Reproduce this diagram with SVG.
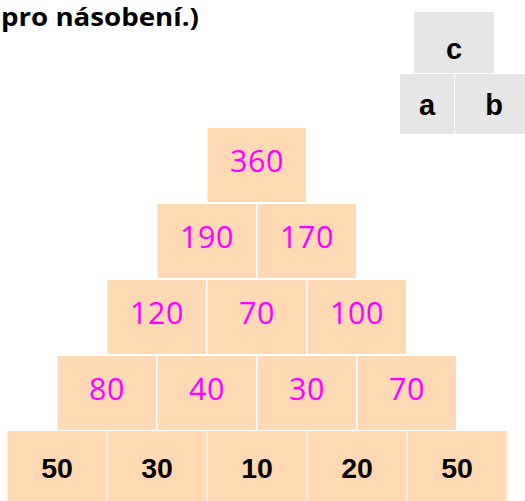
<svg xmlns="http://www.w3.org/2000/svg" width="525" height="501" viewBox="0 0 525 501">
<style>
.g{fill:#e6e6e6}
.p{fill:#fed9b3}
.k{font-family:"Liberation Sans",Arial,sans-serif;font-weight:bold;font-size:28.5px;fill:#000;text-anchor:middle}
.l{font-family:"Liberation Sans",Arial,sans-serif;font-weight:bold;font-size:29px;fill:#000;text-anchor:middle}
.m{font-family:"Open Sans","Noto Sans",sans-serif;font-size:30.5px;fill:#ff00ff;text-anchor:middle;letter-spacing:0.5px}
.t{font-family:"Open Sans","Noto Sans",sans-serif;font-weight:bold;font-size:25px;fill:#000}
</style>
<rect width="525" height="501" fill="#fff"/>
<text class="t" x="1" y="26" textLength="198" lengthAdjust="spacingAndGlyphs">pro násobení.)</text>
<g id="legend">
<g id="legend-c"><rect class="g" x="414" y="12" width="80" height="61"/><text class="l" x="454" y="59">c</text></g>
<g id="legend-a"><rect class="g" x="400" y="74" width="54" height="60"/><text class="l" x="427" y="115">a</text></g>
<g id="legend-b"><rect class="g" x="455" y="74" width="70" height="60"/><text class="l" x="494" y="115">b</text></g>
</g>
<g id="row1">
<g id="n360"><rect class="p" x="207.5" y="128" width="98.5" height="74"/><text class="m" x="257" y="172">360</text></g>
</g>
<g id="row2">
<g id="n190"><rect class="p" x="157.5" y="204" width="98.5" height="74"/><text class="m" x="207" y="248">190</text></g>
<g id="n170"><rect class="p" x="257.5" y="204" width="98.5" height="74"/><text class="m" x="307" y="248">170</text></g>
</g>
<g id="row3">
<g id="n120"><rect class="p" x="107.5" y="280" width="98.5" height="74"/><text class="m" x="157" y="324">120</text></g>
<g id="n70a"><rect class="p" x="207.5" y="280" width="98.5" height="74"/><text class="m" x="257" y="324">70</text></g>
<g id="n100"><rect class="p" x="307.5" y="280" width="98.5" height="74"/><text class="m" x="357" y="324">100</text></g>
</g>
<g id="row4">
<g id="n80"><rect class="p" x="57.5" y="356" width="98.5" height="74"/><text class="m" x="107" y="400">80</text></g>
<g id="n40"><rect class="p" x="157.5" y="356" width="98.5" height="74"/><text class="m" x="207" y="400">40</text></g>
<g id="n30"><rect class="p" x="257.5" y="356" width="98.5" height="74"/><text class="m" x="307" y="400">30</text></g>
<g id="n70b"><rect class="p" x="357.5" y="356" width="98.5" height="74"/><text class="m" x="407" y="400">70</text></g>
</g>
<g id="row5">
<g id="n50a"><rect class="p" x="7.5" y="431" width="99" height="70"/><text class="k" x="57" y="478">50</text></g>
<g id="n30b"><rect class="p" x="107.5" y="431" width="99" height="70"/><text class="k" x="157" y="478">30</text></g>
<g id="n10"><rect class="p" x="207.5" y="431" width="99" height="70"/><text class="k" x="257" y="478">10</text></g>
<g id="n20"><rect class="p" x="307.5" y="431" width="99" height="70"/><text class="k" x="357" y="478">20</text></g>
<g id="n50b"><rect class="p" x="407.5" y="431" width="99" height="70"/><text class="k" x="457" y="478">50</text></g>
</g>
<g id="connectors"/>
</svg>
